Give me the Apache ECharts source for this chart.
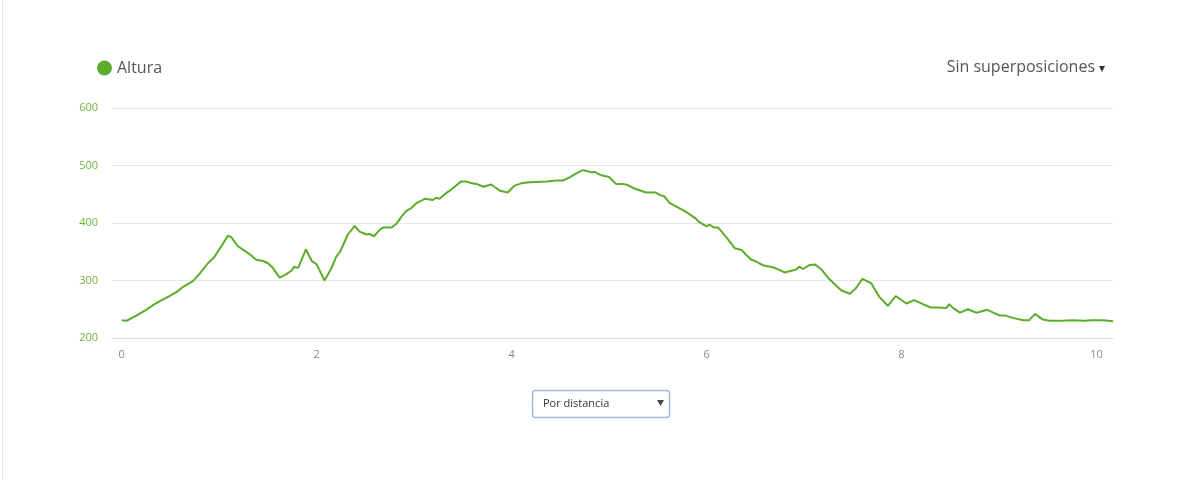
<!DOCTYPE html>
<html>
<head>
<meta charset="utf-8">
<script src="https://cdn.jsdelivr.net/npm/echarts@6/dist/echarts.min.js"></script>
<style>
html,body{margin:0;padding:0;background:#fff;}
#chart{width:1200px;height:480px;}
</style>
</head>
<body>
<div id="chart"></div>
<script>
// Distance along track (km)
const distances = [0,0.05,0.15,0.25,0.32,0.41,0.49,0.58,0.63,0.73,
0.80,0.885,0.95,1.02,1.09,1.125,1.19,1.24,1.31,1.38,
1.45,1.50,1.55,1.62,1.69,1.74,1.77,1.81,1.84,1.89,
1.95,2.0,2.08,2.15,2.20,2.24,2.32,2.39,2.44,2.51,
2.54,2.59,2.65,2.68,2.77,2.82,2.87,2.92,2.97,3.02,
3.11,3.16,3.19,3.23,3.26,3.33,3.40,3.48,3.54,3.59,
3.64,3.71,3.79,3.88,3.96,4.03,4.10,4.18,4.36,4.46,
4.53,4.59,4.66,4.73,4.78,4.82,4.85,4.92,5.0,5.07,
5.14,5.19,5.26,5.38,5.48,5.52,5.57,5.62,5.72,5.81,
5.88,5.93,6.00,6.03,6.08,6.12,6.20,6.29,6.36,6.41,
6.46,6.51,6.54,6.59,6.68,6.75,6.80,6.87,6.92,6.95,
6.99,7.06,7.11,7.18,7.25,7.27,7.38,7.47,7.53,7.60,
7.69,7.77,7.86,7.94,8.05,8.13,8.22,8.30,8.37,8.46,
8.49,8.53,8.60,8.68,8.77,8.88,9.01,9.07,9.14,9.25,
9.31,9.37,9.45,9.52,9.65,9.76,9.88,9.95,10.07,10.17];
// Elevation (m)
const altura = [231,230,239,249,257,266,273,282,289,299,
312,330,341,359,378,375,360,354,346,336,
334,330,322,305,311,317,324,322,334,354,
334,328,300,321,341,350,380,395,385,380,
381,377,389,392,392,399,411,421,426,434,
442,441,440,444,442,452,461,472,472,469,
468,463,467,456,453,465,469,471,472,474,
474,479,486,492,490,488,489,483,480,468,
468,466,460,453,453,449,446,435,426,417,
409,401,394,397,392,392,376,356,353,344,
336,333,330,326,323,318,314,317,319,324,
320,327,328,319,304,305,283,277,286,303,
295,272,256,273,260,266,259,253,253,252,
259,252,244,250,244,249,239,239,235,231,
231,242,232,230,230,231,230,231,231,229];
const xTickLabels = [0,2,4,6,8,10];
const seriesName = 'Altura';

const chart = echarts.init(document.getElementById('chart'), null, {renderer:'canvas'});
const green = '#5aad2b';
chart.setOption({
  animation:false,
  backgroundColor:'#fff',
  legend:{
    left:92, top:55,
    icon:'circle', itemWidth:15, itemHeight:15, itemGap:5,
    textStyle:{fontFamily:'Open Sans', fontSize:16, color:'#555'},
    data:[{name:seriesName, itemStyle:{color:green}}]
  },
  grid:{left:112, right:87, top:108, bottom:142},
  xAxis:{
    type:'value', min:-0.1, max:10.17,
    axisLine:{show:true, lineStyle:{color:'#dcdcdc', width:1}},
    axisTick:{show:false},
    splitLine:{show:false},
    axisLabel:{customValues:xTickLabels, color:'#888', fontFamily:'Open Sans', fontSize:11, margin:11}
  },
  yAxis:{
    type:'value', min:200, max:600, interval:100,
    axisLine:{show:false}, axisTick:{show:false},
    splitLine:{lineStyle:{color:'#e6e6e6', width:1}},
    axisLabel:{color:'#6fb43a', fontFamily:'Open Sans', fontSize:11, margin:14}
  },
  series:[{
    name:seriesName, type:'line', showSymbol:false, smooth:false,
    lineStyle:{color:green, width:2}, itemStyle:{color:green},
    data: distances.map((d,i)=>[d, altura[i]])
  }],
  graphic:[
    {type:'line', shape:{x1:2.5,y1:0,x2:2.5,y2:480}, style:{stroke:'#e6e6e6', lineWidth:1}},
    {type:'text', x:1095, y:67, style:{text:'Sin superposiciones', fontFamily:'Open Sans', fontSize:16, fill:'#555', textAlign:'right', textVerticalAlign:'middle', align:'right', verticalAlign:'middle'}},
    {type:'polygon', shape:{points:[[1099,66],[1105,66],[1102,72]]}, style:{fill:'#333'}},
    {type:'rect', shape:{x:532.5,y:390.5,width:137,height:27,r:3}, style:{fill:'#fff', stroke:'#9cb9d8', lineWidth:1.5}},
    {type:'text', x:543, y:404, style:{text:'Por distancia', fontFamily:'Open Sans', fontSize:11, fill:'#333', verticalAlign:'middle'}},
    {type:'polygon', shape:{points:[[657,400],[664,400],[660.5,406]]}, style:{fill:'#444'}}
  ]
});
</script>
</body>
</html>
